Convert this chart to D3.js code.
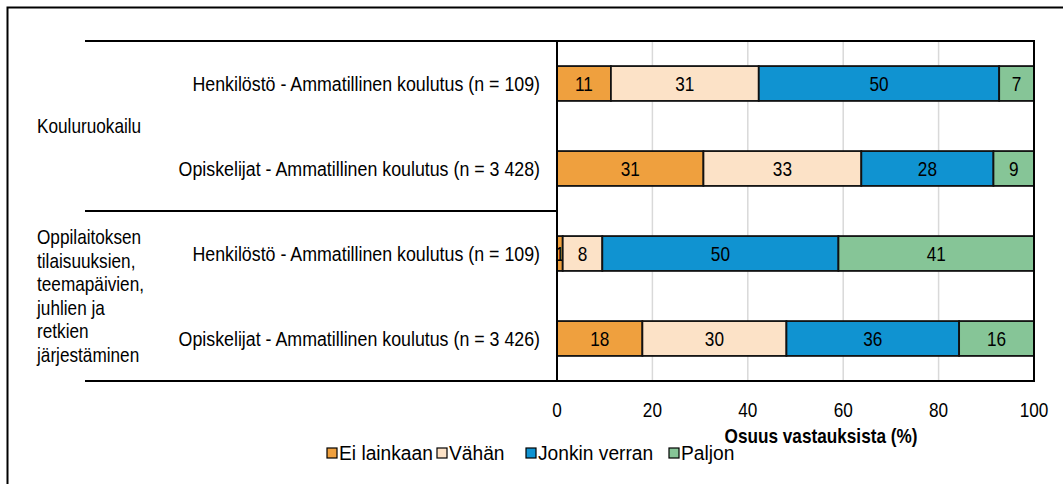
<!DOCTYPE html>
<html>
<head>
<meta charset="utf-8">
<script src="https://cdn.jsdelivr.net/npm/d3@7"></script>
<style>
  body { margin: 0; background: #fff; }
  svg text { font-family: "Liberation Sans Narrow", "Arial Narrow", "Liberation Sans", Arial, sans-serif; fill: #000; }
</style>
</head>
<body>
<script>
// Answer categories (stack order, left to right)
const categories = ["Ei lainkaan", "Vähän", "Jonkin verran", "Paljon"];
const colors = ["#EFA03E", "#FCE2C7", "#1093D1", "#86C597"];

// Row labels, top to bottom
const rowLabels = [
  "Henkilöstö - Ammatillinen koulutus (n = 109)",
  "Opiskelijat - Ammatillinen koulutus (n = 3 428)",
  "Henkilöstö - Ammatillinen koulutus (n = 109)",
  "Opiskelijat - Ammatillinen koulutus (n = 3 426)"
];

// Group labels (each group covers two rows)
const groupLabels = [
  ["Kouluruokailu"],
  ["Oppilaitoksen", "tilaisuuksien,", "teemapäivien,", "juhlien ja", "retkien", "järjestäminen"]
];
const rowsPerGroup = 2;

// Shares (%) per category, one value per row
const eiLainkaan = [11.3, 30.7, 1.2, 17.9];
const vahan = [31.0, 33.1, 8.3, 30.2];
const jonkinVerran = [50.4, 27.7, 49.5, 36.2];
const paljon = [7.3, 8.5, 41.0, 15.7];

const xTicks = [0, 20, 40, 60, 80, 100];
const xTitle = "Osuus vastauksista (%)";

const width = 1063, height = 484;
const plot = { left: 557, right: 1034, top: 41, bottom: 381 };
// No narrow font installed: squeeze regular sans horizontally
const FS = 20, SX = 0.86;
const squeeze = (px, py, sx = SX) => `translate(${px},${py}) scale(${sx},1)`;

const series = [eiLainkaan, vahan, jonkinVerran, paljon];
const table = rowLabels.map((label, i) => {
  const row = { id: i, label };
  categories.forEach((c, k) => row[c] = series[k][i]);
  return row;
});
const stacked = d3.stack().keys(categories)(table);

const x = d3.scaleLinear().domain([0, 100]).range([plot.left, plot.right]);
const y = d3.scaleBand().domain(table.map(d => d.id))
  .range([plot.top, plot.bottom])
  .paddingInner(0.59).paddingOuter(0.295);

const svg = d3.select("body").append("svg")
  .attr("width", width).attr("height", height);

// Outer chart frame (cropped at right and bottom)
svg.append("path")
  .attr("d", `M7.5,${height} V7.5 H${width}`)
  .attr("fill", "none").attr("stroke", "#000").attr("stroke-width", 2);

// Gridlines
svg.append("g").selectAll("line").data(xTicks.slice(1, -1)).join("line")
  .attr("x1", d => x(d)).attr("x2", d => x(d))
  .attr("y1", plot.top).attr("y2", plot.bottom)
  .attr("stroke", "#D9D9D9").attr("stroke-width", 1.5);

// Bars
const layer = svg.append("g").selectAll("g").data(stacked).join("g")
  .attr("fill", (d, i) => colors[i]);
layer.selectAll("rect").data(d => d).join("rect")
  .attr("x", d => x(d[0]))
  .attr("width", d => x(d[1]) - x(d[0]))
  .attr("y", d => y(d.data.id))
  .attr("height", y.bandwidth())
  .attr("stroke", "#111").attr("stroke-width", 1.8);

// Bar value labels
layer.selectAll("text").data(d => d).join("text")
  .attr("transform", d => squeeze((x(d[0]) + x(d[1])) / 2, y(d.data.id) + y.bandwidth() / 2))
  .attr("dy", "0.36em")
  .attr("text-anchor", "middle")
  .attr("font-size", FS)
  .text(d => Math.round(d[1] - d[0]));

// Plot frame
svg.append("rect")
  .attr("x", plot.left).attr("y", plot.top)
  .attr("width", plot.right - plot.left).attr("height", plot.bottom - plot.top)
  .attr("fill", "none").attr("stroke", "#000").attr("stroke-width", 2);

// Group separators on the left
const groupBounds = d3.range(0, rowLabels.length + 1, rowsPerGroup)
  .map(i => i < rowLabels.length ? y(i) - y.step() * y.paddingInner() / 2 : plot.bottom);
svg.append("g").selectAll("line").data(groupBounds).join("line")
  .attr("x1", 85).attr("x2", plot.left)
  .attr("y1", d => d).attr("y2", d => d)
  .attr("stroke", "#000").attr("stroke-width", 2);

// Row labels
svg.append("g").selectAll("text").data(table).join("text")
  .attr("transform", d => squeeze(plot.left - 17, y(d.id) + y.bandwidth() / 2, 0.89))
  .attr("dy", "0.36em")
  .attr("text-anchor", "end")
  .attr("font-size", FS)
  .text(d => d.label);

// Group labels
const lineH = 23.5;
svg.append("g").selectAll("text").data(groupLabels).join("text")
  .attr("transform", (d, i) => {
    const mid = (groupBounds[i] + groupBounds[i + 1]) / 2;
    return squeeze(37, mid - (d.length - 1) * lineH / 2);
  })
  .attr("font-size", FS)
  .each(function (d) {
    d3.select(this).selectAll("tspan").data(d).join("tspan")
      .attr("x", 0)
      .attr("dy", (t, j) => j === 0 ? "0.36em" : lineH)
      .text(t => t);
  });

// X axis tick labels
svg.append("g").selectAll("text").data(xTicks).join("text")
  .attr("transform", d => squeeze(x(d), 410))
  .attr("dy", "0.36em")
  .attr("text-anchor", "middle")
  .attr("font-size", FS)
  .text(d => d);

svg.append("text")
  .attr("transform", squeeze(821, 436))
  .attr("dy", "0.36em")
  .attr("text-anchor", "middle")
  .attr("font-size", FS)
  .attr("font-weight", "bold")
  .text(xTitle);

// Legend
const legendX = [327, 437, 526, 669];
const legend = svg.append("g").selectAll("g").data(categories).join("g")
  .attr("transform", (d, i) => `translate(${legendX[i]},453)`);
legend.append("rect")
  .attr("x", 0).attr("y", -5).attr("width", 10).attr("height", 10)
  .attr("fill", (d, i) => colors[i])
  .attr("stroke", "#000").attr("stroke-width", 1.2);
legend.append("text")
  .attr("transform", squeeze(12, 0, 0.96))
  .attr("dy", "0.36em")
  .attr("font-size", FS)
  .text(d => d);
</script>
</body>
</html>
